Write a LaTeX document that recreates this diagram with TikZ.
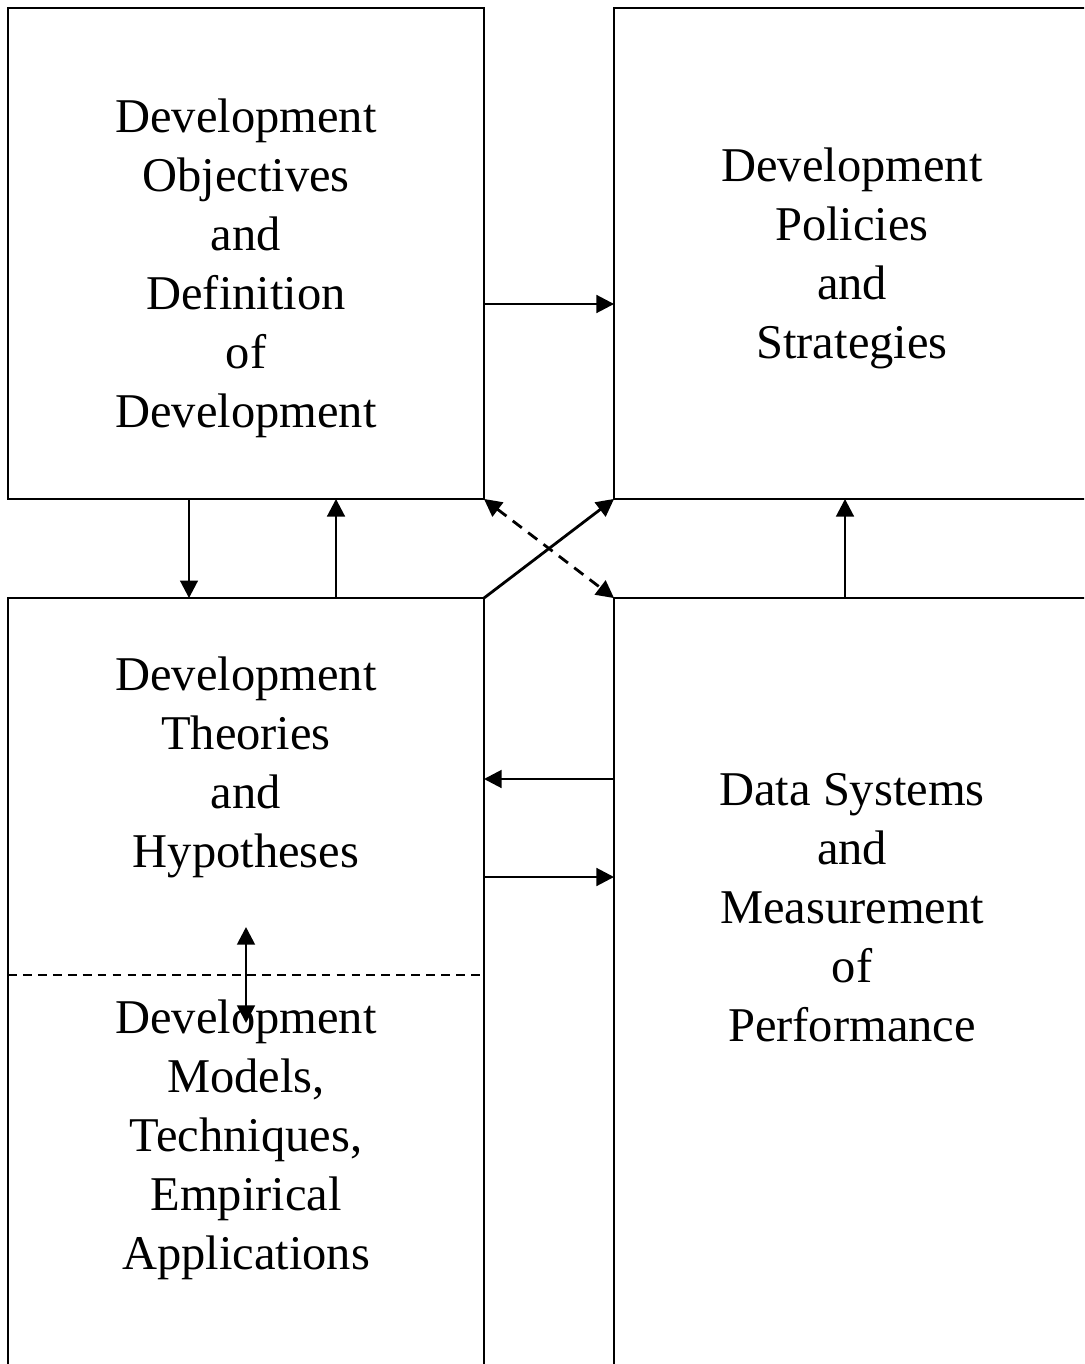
\documentclass[tikz,border=0pt]{standalone}
\usepackage{fontspec}
\setmainfont{Liberation Serif}
\usetikzlibrary{arrows.meta}

\tikzset{
  box/.style={draw, line width=1.1pt, inner sep=0pt, outer sep=0pt},
  boxtext/.style={align=center, font=\fontsize{27.6}{33.6}\selectfont},
  conn/.style={line width=1.6pt, -{Triangle[width=10pt,length=10pt]}},
  dconn/.style={line width=1.6pt, {Triangle[width=10pt,length=10pt]}-{Triangle[width=10pt,length=10pt]}},
}

\begin{document}
\begin{tikzpicture}[x=0.02cm, y=-0.02cm]
    \clip (0,0) rectangle (1084,1364);

    % Boxes
    \node[box, minimum width=9.52cm, minimum height=9.82cm] (objectives) at (246,253.5) {};
    \node[box, minimum width=9.92cm, minimum height=9.82cm] (policies) at (862,253.5) {};
    \node[box, minimum width=9.52cm, minimum height=15.84cm] (theories) at (246,994) {};
    \node[box, minimum width=9.92cm, minimum height=15.84cm] (data) at (862,994) {};

    % Texts
    \node[boxtext] (objtext) at (246,268) {Development\\Objectives\\and\\Definition\\of\\Development};
    \node[boxtext] (poltext) at (852,258) {Development\\Policies\\and\\Strategies};
    \node[boxtext] (theotext) at (246,767) {Development\\Theories\\and\\Hypotheses};
    \node[boxtext] (modtext) at (246,1140) {Development\\Models,\\Techniques,\\Empirical\\Applications};
    \node[boxtext] (datatext) at (852,908) {Data Systems\\and\\Measurement\\of\\Performance};

    % Guide coordinates
    \coordinate (row1) at (0,304);
    \coordinate (row2) at (0,779);
    \coordinate (row3) at (0,877);
    \coordinate (split) at (0,975);
    \coordinate (col1) at (189,0);
    \coordinate (col2) at (336,0);
    \coordinate (col3) at (845,0);
    \coordinate (linktop) at (246,927);
    \coordinate (linkbot) at (246,1023);

    % Arrows between boxes
    \draw[conn] (objectives.east |- row1) -- (policies.west |- row1);
    \draw[conn] (objectives.south -| col1) -- (theories.north -| col1);
    \draw[conn] (theories.north -| col2) -- (objectives.south -| col2);
    \draw[conn] (theories.north east) -- (policies.south west);
    \draw[dconn, dash pattern=on 6.5pt off 4.5pt] (objectives.south east) -- (data.north west);
    \draw[conn] (data.north -| col3) -- (policies.south -| col3);
    \draw[conn] (data.west |- row2) -- (theories.east |- row2);
    \draw[conn] (theories.east |- row3) -- (data.west |- row3);

    % Split inside the left box
    \draw[line width=1.1pt, dash pattern=on 5pt off 3.5pt] (theories.west |- split) -- (theories.east |- split);
    \draw[dconn] (linktop) -- (linkbot);
\end{tikzpicture}
\end{document}
